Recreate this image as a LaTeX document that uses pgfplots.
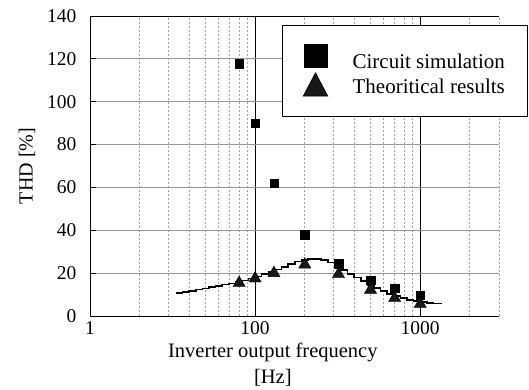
\documentclass[border=0pt]{standalone}
\usepackage{pgfplots}
\pgfplotsset{compat=1.18}
\usepackage{fontspec}
\setmainfont{Liberation Serif}
\definecolor{gridgray}{RGB}{150,150,150}
\definecolor{dotgray}{RGB}{160,160,160}
\begin{document}
\begin{tikzpicture}
\begin{axis}[
  at={(0pt,0pt)}, anchor=south west,
  scale only axis, width=409pt, height=300pt,
  xmode=log, xmin=10, xmax=3000, ymin=0, ymax=140,
  xtick={10,100,1000}, xticklabels={1,100,1000},
  minor xtick={20,30,40,50,60,70,80,90,200,300,400,500,600,700,800,900,2000,3000},
  ytick={0,20,...,140},
  /pgf/number format/assume math mode=true,
  axis x line*=bottom, axis y line*=left,
  axis line style={black, line width=0.9pt},
  xmajorgrids=true, ymajorgrids=true, xminorgrids=true,
  major x grid style={black, line width=0.8pt},
  major y grid style={gridgray, line width=0.9pt},
  minor x grid style={dotgray, line width=1pt, dash pattern=on 2pt off 2pt},
  tick align=inside, major tick length=6pt, minor tick length=0pt,
  xtick style={draw=none},
  ytick style={black, line width=0.8pt},
  tick label style={font=\fontsize{19.5}{22}\selectfont},
  yticklabel style={xshift=-10pt},
  xticklabel style={yshift=-2pt},
  ylabel={THD [\%]},
  ylabel style={at={(axis description cs:-0.154,0.5)}, anchor=center, font=\fontsize{20}{24}\selectfont},
  xlabel={Inverter output frequency\\{[Hz]}},
  xlabel style={at={(axis description cs:0.447,-0.163)}, anchor=center, align=center, font=\fontsize{20.5}{26}\selectfont},
  legend style={at={(0.4694,0.97)}, anchor=north west, draw=black, line width=0.8pt, fill=white,
    font=\fontsize{21}{24}\selectfont, inner xsep=21pt, inner ysep=19pt, row sep=1pt,
    /tikz/every odd column/.append style={column sep=23pt}},
  legend cell align=left,
  clip=false,
]
% theoretical curve (stepped)
\addplot[const plot, black, line width=1.6pt, forget plot] coordinates {
(33.0,10.6)(36.3,11.2)(39.8,11.8)(43.7,12.4)(47.9,12.9)(52.5,13.5)(57.5,14.1)(63.1,14.7)
(69.2,15.2)(75.9,15.8)(83.2,16.6)(91.2,17.5)(100,18.4)(109.6,19.5)(120.2,20.6)(131.8,21.7)
(144.5,23.0)(158.5,24.3)(173.8,25.4)(190.5,26.1)(208.9,26.5)(229.1,26.5)(251.2,26.0)(275.4,24.9)
(302.0,23.3)(331.1,21.4)(363.1,19.6)(398.1,17.9)(436.5,16.2)(478.6,14.6)(524.8,13.0)(575.4,11.6)
(631.0,10.4)(691.8,9.3)(758.6,8.3)(831.8,7.6)(912.0,7.0)(1000,6.6)(1096,6.2)(1202,5.9)(1334,5.6)
};
\addplot[only marks, mark=square*, mark size=4.2pt, mark options={black, fill=black},
  legend image post style={mark size=11.5pt, yshift=6pt}] coordinates {
(80,117.7)(100,90.1)(130,62.0)(200,37.9)(320,24.4)(500,16.6)(700,12.9)(1000,9.8)
};
\addlegendentry{Circuit simulation}
\addplot[only marks, mark=triangle*, mark size=7pt, mark options={black, fill=black!90},
  legend image post style={mark size=14pt, yshift=-1pt, mark options={black, fill=black!90, yscale=1.1}}] coordinates {
(80,15.4)(100,17.5)(130,20.0)(200,24.0)(320,19.5)(500,12.2)(700,8.4)(1000,5.6)
};
\addlegendentry{Theoritical results}
\draw[black, line width=0.9pt] (rel axis cs:0,1) -- (rel axis cs:1,1);
\end{axis}
\pgfresetboundingbox
\path (-90pt,-73pt) rectangle (439pt,316pt);
\end{tikzpicture}
\end{document}
